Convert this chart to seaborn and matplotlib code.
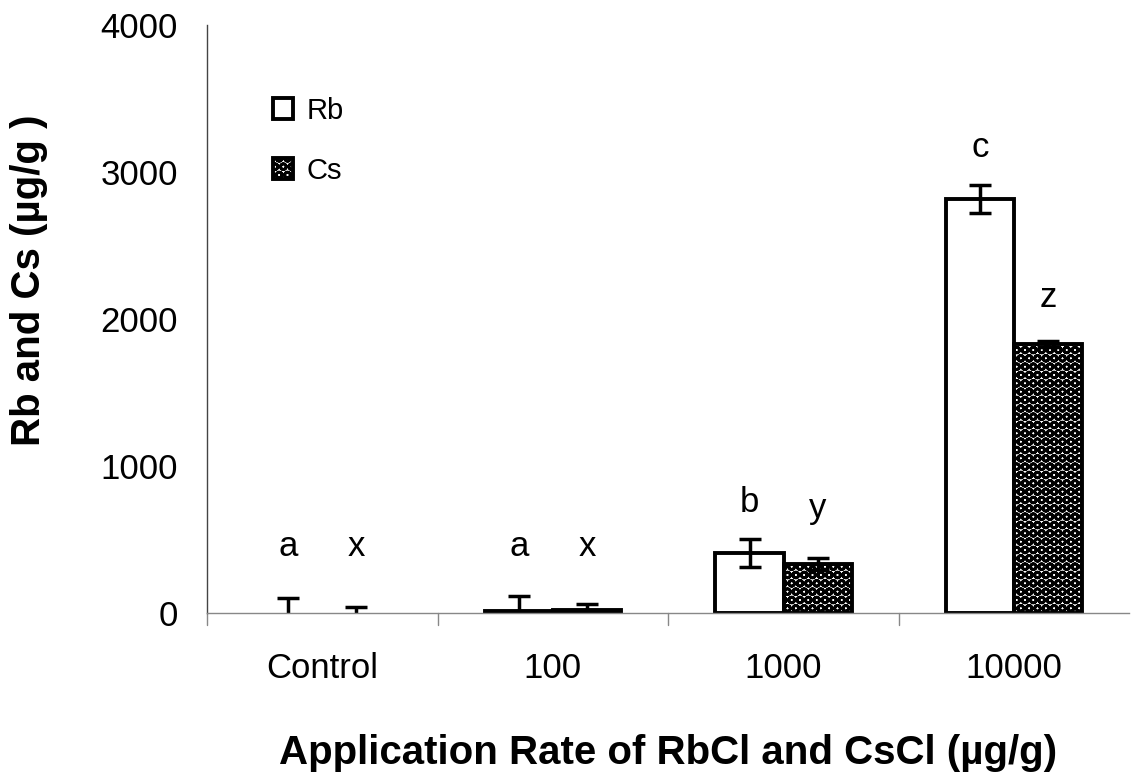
import matplotlib.pyplot as plt
import seaborn as sns
import pandas as pd
import numpy as np
from matplotlib.patches import Patch

categories = ['Control', '100', '1000', '10000']
rb_mean = [0, 15, 410, 2815]
rb_err = [100, 100, 95, 95]
cs_mean = [0, 18, 335, 1830]
cs_err = [40, 45, 40, 20]
rb_letters = ['a', 'a', 'b', 'c']
cs_letters = ['x', 'x', 'y', 'z']
rb_letter_y = [390, 390, 687, 3100]
cs_letter_y = [390, 390, 646, 2080]

df = pd.DataFrame({
    'rate': categories * 2,
    'element': ['Rb'] * 4 + ['Cs'] * 4,
    'value': rb_mean + cs_mean,
})

sns.set_style('white')
plt.rcParams['font.family'] = ['Liberation Sans', 'DejaVu Sans']
plt.rcParams['hatch.linewidth'] = 2.0
plt.rcParams['text.color'] = 'black'
plt.rcParams['axes.labelcolor'] = 'black'
plt.rcParams['xtick.color'] = 'black'
plt.rcParams['ytick.color'] = 'black'

fig = plt.figure(figsize=(11.34, 7.8), dpi=100)
ax = fig.add_axes([0.1825, 0.214, 0.8135, 0.754])

sns.barplot(data=df, x='rate', y='value', hue='element', order=categories,
            hue_order=['Rb', 'Cs'], errorbar=None, width=0.59, ax=ax,
            palette=['white', 'white'], edgecolor='black', linewidth=2.8,
            legend=False)

patches = ax.patches[:8]
for i, p in enumerate(patches):
    if i >= 4:
        p.set_hatch('OO')
    if p.get_height() == 0:
        p.set_visible(False)

errs = rb_err + cs_err
means = rb_mean + cs_mean
for p, m, e in zip(patches, means, errs):
    xc = p.get_x() + p.get_width() / 2
    ax.errorbar(xc, m, yerr=e, fmt='none', ecolor='black', elinewidth=2.5,
                capsize=8, capthick=2.5)

for i in range(4):
    xr = patches[i].get_x() + patches[i].get_width() / 2
    xs = patches[i + 4].get_x() + patches[i + 4].get_width() / 2
    ax.text(xr, rb_letter_y[i], rb_letters[i], ha='center', va='baseline', fontsize=25)
    ax.text(xs, cs_letter_y[i], cs_letters[i], ha='center', va='baseline', fontsize=25)

ax.set_ylim(0, 4000)
ax.set_xlim(-0.5, 3.5)
ax.set_yticks([0, 1000, 2000, 3000, 4000])
ax.set_xticks([0, 1, 2, 3])
ax.set_xticklabels(categories)
ax.tick_params(axis='x', length=0, pad=28, labelsize=25)
ax.tick_params(axis='y', length=0, labelsize=25, pad=21)
for xb in [-0.5, 0.5, 1.5, 2.5]:
    ax.plot([xb, xb], [0, -0.02], transform=ax.get_xaxis_transform(),
            color='#888888', lw=1, clip_on=False)

sns.despine(ax=ax, top=True, right=True)
ax.spines['left'].set_color('#444444')
ax.spines['left'].set_linewidth(1)
ax.spines['bottom'].set_color('#888888')
ax.spines['bottom'].set_linewidth(1)

ax.set_xlabel('Application Rate of RbCl and CsCl (\u00b5g/g)', fontsize=29,
              fontweight='bold')
ax.xaxis.set_label_coords(0.5, -0.205)
ax.set_ylabel('Rb and Cs (\u00b5g/g )', fontsize=29, fontweight='bold')
ax.yaxis.set_label_coords(-0.172, 0.566)

handles = [Patch(facecolor='white', edgecolor='black', linewidth=2.8, label='Rb'),
           Patch(facecolor='white', edgecolor='black', linewidth=2.8, hatch='OO', label='Cs')]
ax.legend(handles=handles, loc='upper left', bbox_to_anchor=(0.0715, 0.878),
          frameon=False, fontsize=21, handlelength=0.7, handleheight=0.7,
          handletextpad=0.45, labelspacing=1.1, borderpad=0, borderaxespad=0)

fig.savefig('out.png', dpi=100)
